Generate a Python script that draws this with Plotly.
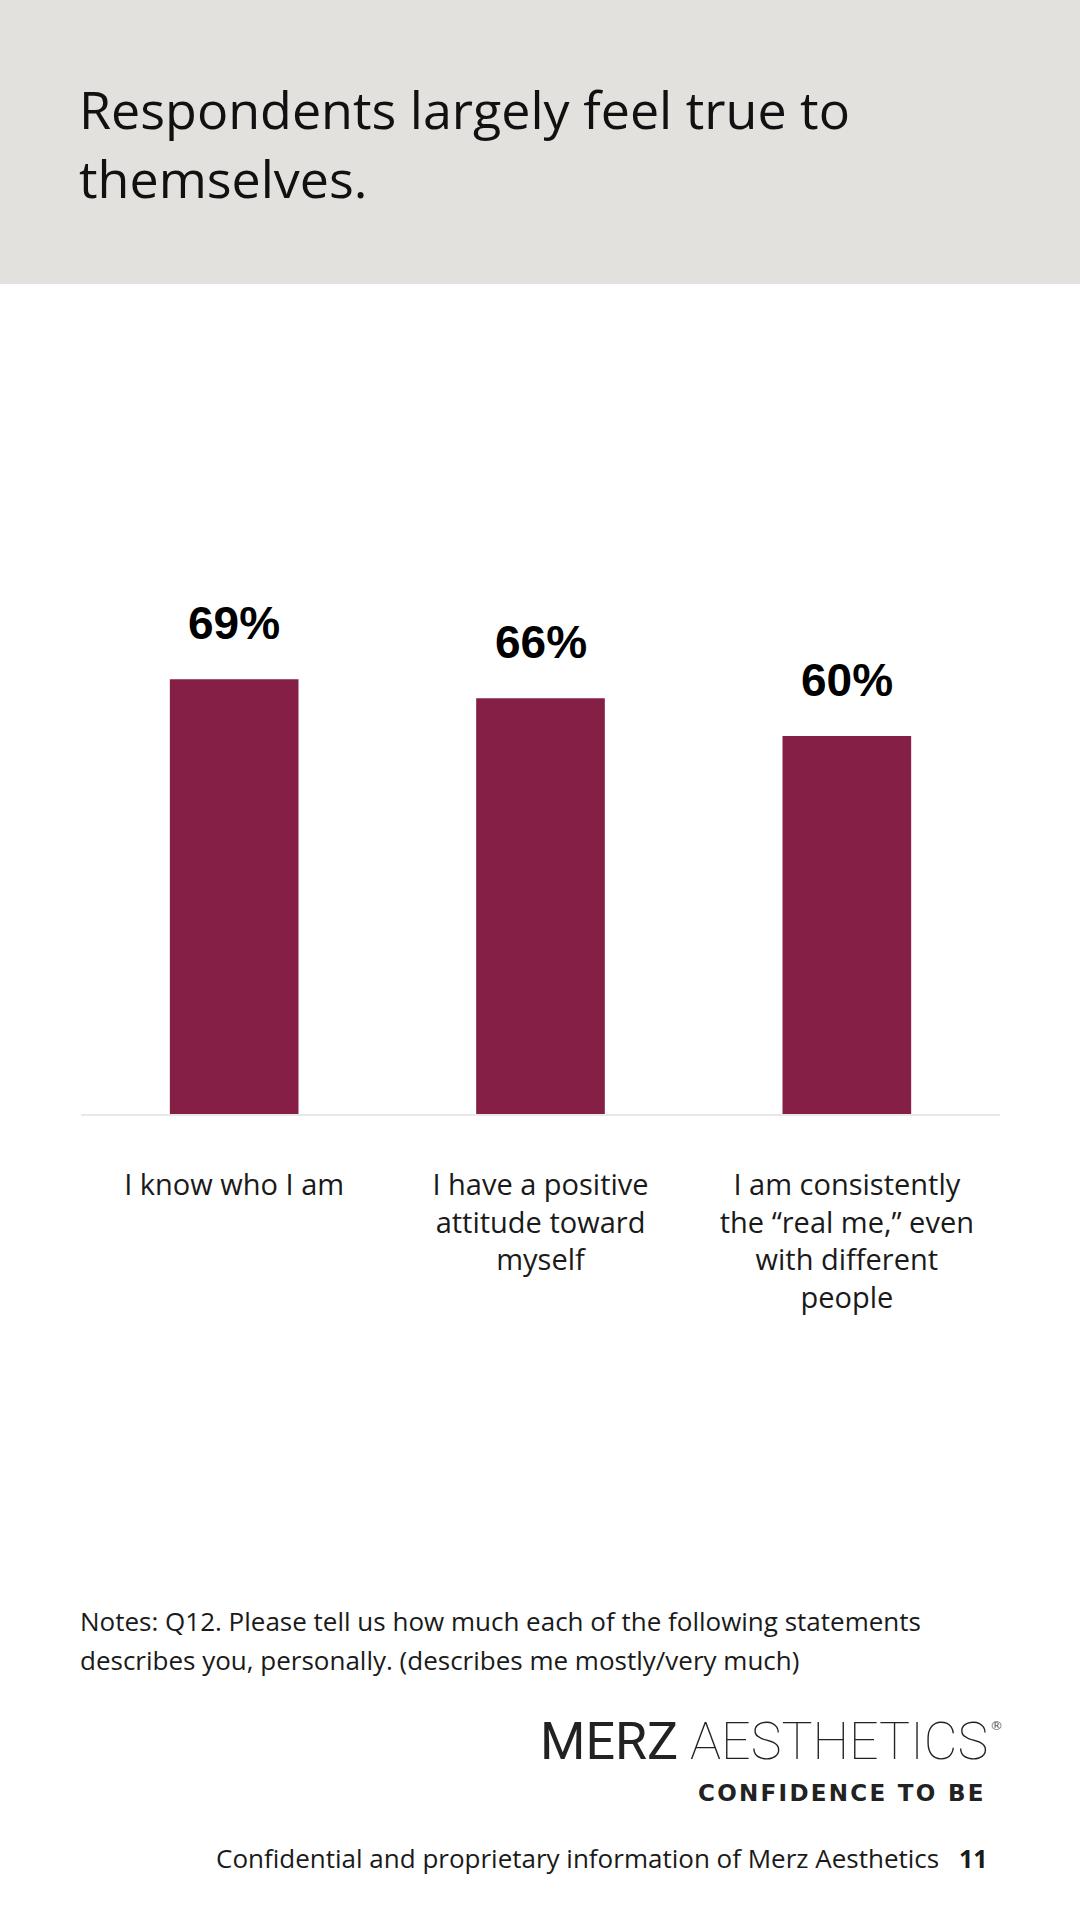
import plotly.graph_objects as go

# data
categories = ["I know who I am",
              "I have a positive<br>attitude toward<br>myself",
              "I am consistently<br>the \u201creal me,\u201d even<br>with different<br>people"]
values = [69, 66, 60]
value_labels = ["69%", "66%", "60%"]

title_lines = ["Respondents largely feel true to", "themselves."]
notes_lines = ["Notes: Q12. Please tell us how much each of the following statements",
               "describes you, personally. (describes me mostly/very much)"]
footer_text = "Confidential and proprietary information of Merz Aesthetics"
page_no = "11"

W, H = 1080, 1920
L, R = 81, 80          # plot area left / right margin in px
TOP, BASE = 484, 1114  # plot area top / bottom in px
PW, PH = W - L - R, BASE - TOP

BAR = "#851F46"
TXT = "#1a1a1a"
BODY_FONT = "Open Sans"


def px(x):
    return (x - L) / PW


def py(y):
    return (BASE - y) / PH


def note(x, y, text, size, xanchor="left", family=BODY_FONT, color=TXT, weight="normal"):
    fig.add_annotation(xref="paper", yref="paper", x=px(x), y=py(y),
                       xanchor=xanchor, yanchor="middle", showarrow=False,
                       text=text, borderpad=0,
                       font=dict(family=family, size=size, color=color, weight=weight))


fig = go.Figure()

fig.add_trace(go.Bar(
    x=categories,
    y=values,
    marker=dict(color=BAR, line=dict(width=0)),
    hoverinfo="skip",
))

# value labels above bars
for c, v, t in zip(categories, values, value_labels):
    fig.add_annotation(x=c, y=v, xref="x", yref="y", text=t, showarrow=False,
                       yanchor="bottom", yshift=28,
                       font=dict(family="Liberation Sans", size=46, color="#000",
                                 weight="bold"))

# grey header band
fig.add_shape(type="rect", xref="paper", yref="paper",
              x0=px(0), x1=px(W), y0=py(284), y1=py(0),
              fillcolor="#E2E1DE", line=dict(width=0), layer="below")

note(78, 109, title_lines[0], 52, color="#111")
note(78, 178, title_lines[1], 52, color="#111")

note(79, 1621, notes_lines[0], 26)
note(79, 1660, notes_lines[1], 26)

# logo
note(679, 1741, "MERZ", 52, xanchor="right", family="Roboto", color="#222", weight=400)
note(689, 1741, "AESTHETICS", 52, family="Roboto", color="#222", weight=100)
note(1004, 1725, "\u00ae", 13, xanchor="right", family="DejaVu Sans", color="#555")
note(984, 1793, "\u200a".join("CONFIDENCE TO BE"), 23, xanchor="right",
     family="DejaVu Sans", color="#222", weight="bold")

# footer
note(940, 1858, footer_text, 26, xanchor="right")
note(989, 1858, "<b>" + page_no + "</b>", 25, xanchor="right")

fig.update_layout(
    width=W, height=H, autosize=False,
    margin=dict(l=L, r=R, t=TOP, b=H - BASE, pad=0),
    paper_bgcolor="white", plot_bgcolor="white",
    showlegend=False, bargap=0.58,
    font=dict(family=BODY_FONT, color=TXT),
)
fig.update_xaxes(showline=True, linecolor="#E8E8E8", linewidth=2,
                 ticks="", showgrid=False, zeroline=False,
                 tickfont=dict(family=BODY_FONT, size=29, color=TXT),
                 ticklabelstandoff=44)
fig.update_yaxes(range=[0, 100], visible=False, showgrid=False, zeroline=False)

fig.write_html("out.html", config={"displayModeBar": False},
               post_script="document.body.style.margin='0';")
